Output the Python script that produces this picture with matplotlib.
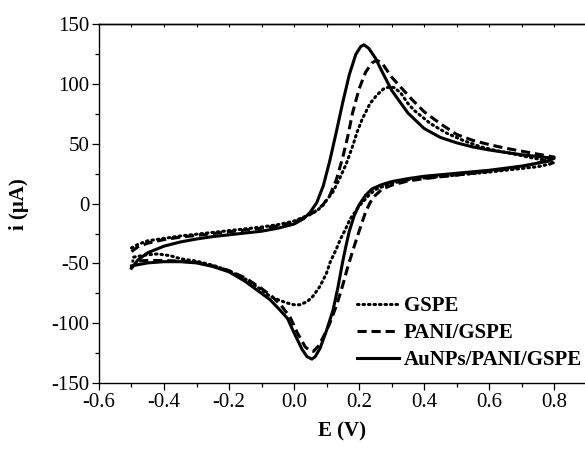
import matplotlib
matplotlib.use('Agg')
import matplotlib.pyplot as plt
from matplotlib.ticker import MultipleLocator

plt.rcParams['font.family'] = ['Liberation Serif', 'DejaVu Serif']

# GSPE (dotted), potential in V, current in uA, one full cycle
e_gspe = [-0.50, -0.48, -0.45, -0.40, -0.35, -0.30, -0.25, -0.20, -0.15, -0.10, -0.05, 0.00,
          0.04, 0.07, 0.09, 0.10, 0.12, 0.14, 0.16, 0.18, 0.194, 0.21, 0.234, 0.255, 0.275,
          0.295, 0.31, 0.33, 0.35, 0.37, 0.42, 0.47, 0.52, 0.57, 0.62, 0.67, 0.72, 0.77, 0.80,
          0.75, 0.70, 0.60, 0.50, 0.40, 0.35, 0.30, 0.27, 0.249, 0.23, 0.21, 0.20, 0.185,
          0.172, 0.157, 0.142, 0.13, 0.111, 0.10, 0.08, 0.058, 0.04, 0.018, 0.00, -0.022,
          -0.043, -0.074, -0.10, -0.15, -0.20, -0.25, -0.30, -0.35, -0.38, -0.42, -0.46, -0.50]
i_gspe = [-37, -34, -31, -29, -27, -25.5, -24, -22.5, -21, -19.5, -17.5, -14.5,
          -10, -6, -1, 3, 10, 21, 33, 48, 60, 71, 84, 91, 96,
          98, 97, 92, 84, 78, 67, 59, 53, 48, 44.5, 42, 39, 36.5, 34,
          31, 29.5, 26.5, 24, 21.5, 20, 17, 14, 11.7, 7, 1, -2, -8,
          -13, -22, -30, -38, -49, -58, -69, -77.5, -82, -84.5, -84.5, -83,
          -81, -77.5, -72, -63, -56, -51.5, -48, -46, -43.5, -42, -43, -45]

# PANI/GSPE (dashed)
e_pani = [-0.50, -0.48, -0.45, -0.40, -0.35, -0.30, -0.25, -0.20, -0.15, -0.10, -0.05, 0.00,
          0.04, 0.07, 0.09, 0.11, 0.13, 0.15, 0.165, 0.18, 0.20, 0.22, 0.24, 0.255, 0.27,
          0.30, 0.33, 0.36, 0.40, 0.45, 0.50, 0.55, 0.60, 0.65, 0.70, 0.75, 0.80,
          0.75, 0.70, 0.60, 0.50, 0.40, 0.35, 0.30, 0.27, 0.25, 0.234, 0.22, 0.21, 0.194,
          0.18, 0.172, 0.163, 0.15, 0.132, 0.11, 0.095, 0.075, 0.06, 0.05, 0.035, 0.01,
          -0.012, -0.04, -0.07, -0.10, -0.15, -0.20, -0.25, -0.30, -0.35, -0.40, -0.45, -0.50]
i_pani = [-40, -36, -33, -30, -28, -26.5, -25, -23.5, -22, -20.5, -18.5, -15.5,
          -10.5, -5.5, -0.5, 7, 20, 39, 56, 76, 96, 110, 118, 120, 118,
          106, 97, 88, 77, 67, 58, 53, 49.5, 46.5, 44, 41.5, 39,
          34, 31, 27, 24, 21, 19, 15.5, 12, 7, 1, -7, -15, -28,
          -40, -47, -55, -68, -84, -100, -109, -119, -123.5, -123, -120, -108,
          -95, -85, -77, -71, -62, -56, -52, -49, -48, -47.5, -47.5, -48]

# AuNPs/PANI/GSPE (solid)
e_au = [-0.50, -0.48, -0.45, -0.40, -0.35, -0.30, -0.25, -0.20, -0.15, -0.10, -0.05, 0.00,
        0.03, 0.05, 0.07, 0.09, 0.11, 0.13, 0.15, 0.17, 0.19, 0.205, 0.215, 0.23, 0.25,
        0.27, 0.30, 0.35, 0.40, 0.45, 0.50, 0.55, 0.60, 0.65, 0.70, 0.75, 0.80,
        0.78, 0.70, 0.60, 0.50, 0.40, 0.35, 0.30, 0.27, 0.24, 0.22, 0.20, 0.185, 0.17,
        0.16, 0.15, 0.135, 0.12, 0.10, 0.08, 0.065, 0.055, 0.04, 0.025, 0.00, -0.02,
        -0.05, -0.075, -0.10, -0.13, -0.15, -0.20, -0.25, -0.30, -0.35, -0.40, -0.45, -0.50]
i_au = [-54, -47, -41, -35.5, -32, -29.5, -27.5, -26, -24.5, -23, -20.5, -17,
        -12.5, -7, 1, 15, 36, 60, 85, 108, 125, 131.5, 133, 130, 122,
        111, 95, 76, 63, 55.5, 51, 47.5, 45, 43, 41, 39.5, 38,
        35.5, 31.5, 28, 25.5, 23, 21, 18.5, 16, 12.5, 7, -1, -10, -23,
        -35, -48, -70, -89, -106, -121, -128, -130, -128, -122, -108, -96,
        -87, -80, -75, -69, -65, -57, -52.5, -49.5, -48.5, -48.5, -49.5, -52]

fig = plt.figure(figsize=(5.85, 4.5), dpi=100)
ax = fig.add_axes([0.1692, 0.1489, 0.8308, 0.7967])

ax.plot(e_gspe, i_gspe, color='black', lw=2.2, linestyle=(0, (0.5, 1.3)),
        dash_capstyle='round', label='GSPE')
ax.plot(e_pani, i_pani, color='black', lw=2.2, linestyle=(0, (3, 1.6)), label='PANI/GSPE')
ax.plot(e_au, i_au, color='black', lw=2.2, linestyle='-', label='AuNPs/PANI/GSPE')

ax.set_xlim(-0.6, 0.895)
ax.set_ylim(-150, 150)
ax.xaxis.set_minor_locator(MultipleLocator(0.1))
ax.yaxis.set_minor_locator(MultipleLocator(25))
ax.set_xticks([-0.6, -0.4, -0.2, 0.0, 0.2, 0.4, 0.6, 0.8])
ax.set_xticklabels(['-0.6', '-0.4', '-0.2', '0.0', '0.2', '0.4', '0.6', '0.8'])
ax.set_yticks([-150, -100, -50, 0, 50, 100, 150])
ax.set_yticklabels(['-150', '-100', '-50', '0', '50', '100', '150'])

ax.spines['right'].set_visible(False)
for s in ['left', 'bottom', 'top']:
    ax.spines[s].set_linewidth(1.0)
ax.tick_params(which='major', direction='out', length=5, width=0.9, labelsize=15, pad=2)
ax.tick_params(which='minor', direction='out', length=3, width=0.9)

top = ax.secondary_xaxis('top')
top.set_xticks([-0.5, -0.4, -0.3, -0.2, -0.1, 0.0, 0.1, 0.2, 0.3, 0.4, 0.5, 0.6, 0.7, 0.8])
top.tick_params(direction='in', length=2, width=0.8, labeltop=False)
top.spines['top'].set_linewidth(1.0)

ax.set_xlabel('E (V)', fontsize=15, fontweight='bold', labelpad=7)
ax.set_ylabel('i (μA)', fontsize=15, fontweight='bold', labelpad=16)

ax.legend(loc='lower left', bbox_to_anchor=(0.531, 0.035), frameon=False,
          prop={'weight': 'bold', 'size': 15}, handlelength=2.0, handletextpad=0.25,
          labelspacing=0.35, borderpad=0, borderaxespad=0)

fig.savefig('out.png', dpi=100)
